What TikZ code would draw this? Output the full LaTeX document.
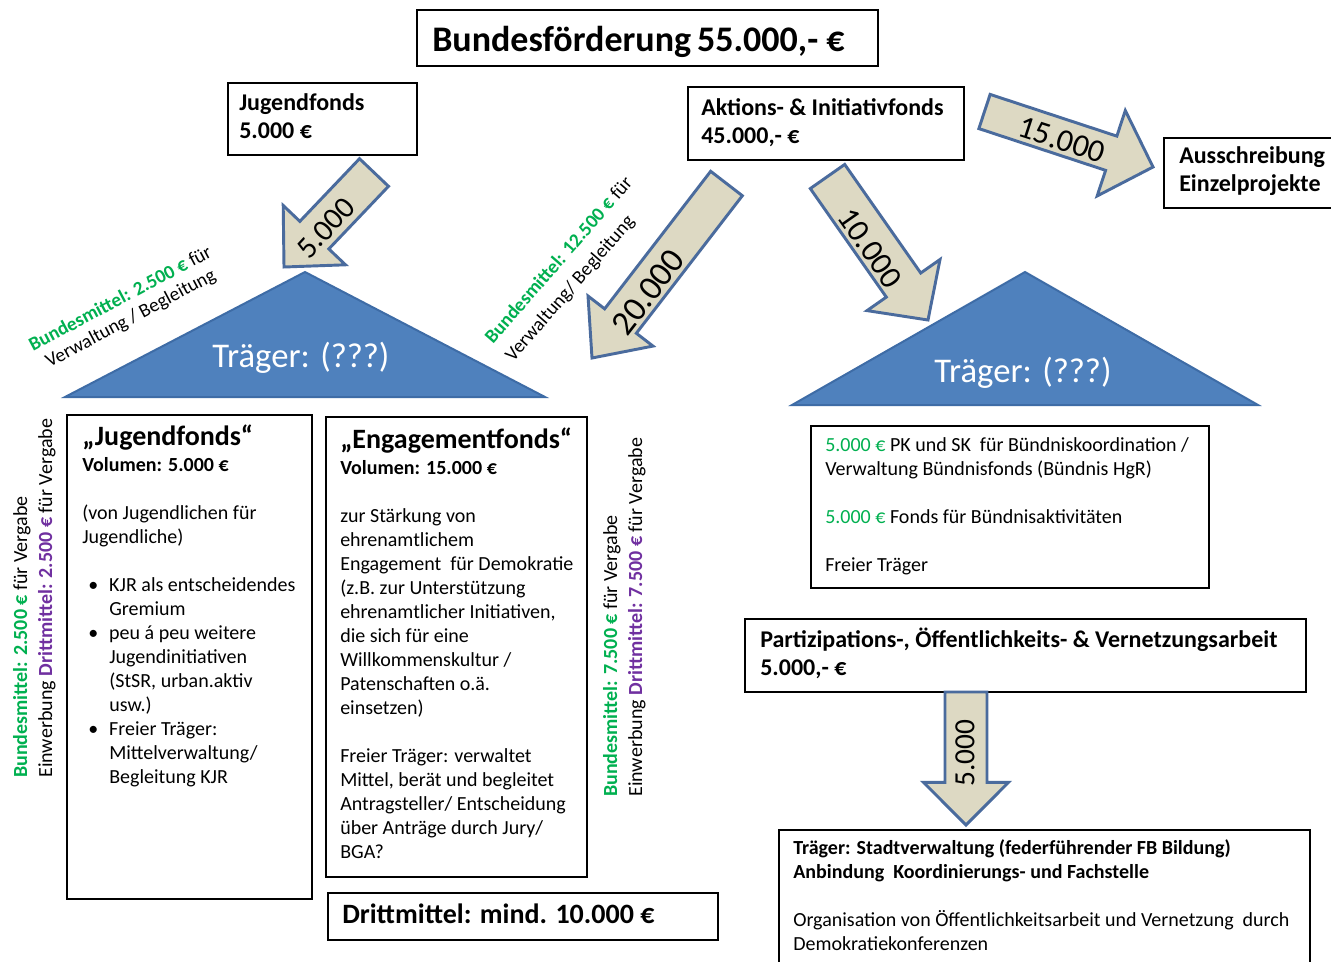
\documentclass[tikz,border=0pt]{standalone}
\usepackage{fontspec}
\setmainfont{Carlito}
\usetikzlibrary{calc,fit}
\definecolor{grn}{HTML}{00B050}
\definecolor{prp}{HTML}{7030A0}
\definecolor{trifill}{HTML}{4F81BD}
\definecolor{triedge}{HTML}{3E6CA6}
\definecolor{arrfill}{HTML}{DDD9C3}
\definecolor{arredge}{HTML}{4A6B9D}
\newcommand\mytab[1]{\begin{tabular}[t]{@{}l@{}}#1\end{tabular}}
\newcommand\mytabc[1]{\begin{tabular}[t]{@{}c@{}}#1\end{tabular}}
\newcommand\blockarrow[5]{%
  \path ($(#2)!#5!(#1)$) coordinate (#1h);
  \draw[barrow] ($(#1)!#3!90:(#2)$) -- ($(#1h)!#3!90:(#2)$) -- ($(#1h)!#4!90:(#2)$) -- (#2)
     -- ($(#1h)!#4!-90:(#2)$) -- ($(#1h)!#3!-90:(#2)$) -- ($(#1)!#3!-90:(#2)$) -- cycle;}
\tikzset{
  box/.style={draw=black, line width=1.2pt, inner sep=0pt, fill=white},
  tb/.style={inner sep=0pt, anchor=base west},
  body/.style={tb, font=\fontsize{15}{18}\selectfont},
  head/.style={tb, font=\fontsize{18}{21}\selectfont\bfseries},
  big/.style={tb, font=\fontsize{21}{25}\selectfont\bfseries},
  lab/.style={inner sep=0pt, font=\fontsize{15}{18.75}\selectfont},
  tri/.style={fill=trifill, draw=triedge, line width=1.5pt},
  trtxt/.style={text=white, inner sep=0pt, font=\fontsize{26}{30}\selectfont},
  barrow/.style={fill=arrfill, draw=arredge, line width=2.2pt},
  arrtxt/.style={inner sep=0pt, font=\fontsize{24}{28}\selectfont},
}
\begin{document}
\begin{tikzpicture}[x=0.75pt,y=-0.75pt]
\useasboundingbox (0,0) rectangle (1331,961);
\fill[white] (0,0) rectangle (1331,961);

% ---- boxes ----
\node[box, line width=2pt, fit={(417,10) (878,66)}] (title) {};
\node[tb, font=\fontsize{27}{32}\selectfont\bfseries] (titletxt) at (432,51) {Bundesförderung\,55.000,- €};

\node[box, fit={(228,83) (417,155)}] (jf) {};
\node[head] (jftxt) at (239,110.5) {\mytab{Jugendfonds\\5.000 €}};

\node[box, fit={(688,87) (964,160)}] (aif) {};
\node[head] (aiftxt) at (701,115.5) {\mytab{Aktions- \& Initiativfonds\\45.000,- €}};

\node[box, fit={(1164,138) (1345,208)}] (aus) {};
\node[head] (austxt) at (1179,163.5) {\mytab{Ausschreibung\\Einzelprojekte}};

% ---- triangles ----
\draw[tri] (305,272) -- (545,397) -- (65,397) -- cycle;
\node[trtxt] (tr1) at (301,358) {Träger: (???)};
\draw[tri] (1025,272) -- (1258,405) -- (792,405) -- cycle;
\node[trtxt] (tr2) at (1023,373) {Träger: (???)};

% ---- block arrows ----
\coordinate (a1t) at (984.5,111.5); \coordinate (a1p) at (1153,167);
\blockarrow{a1t}{a1p}{13.5pt}{33.75pt}{33pt}
\node[arrtxt, rotate=-18] (a1x) at (1062,140) {15.000};

\coordinate (a2t) at (374,172.5); \coordinate (a2p) at (284,267);
\blockarrow{a2t}{a2p}{15pt}{32.25pt}{33pt}
\node[arrtxt, font=\fontsize{23}{27}\selectfont, rotate=47] (a2x) at (326,228) {5.000};

\coordinate (a3t) at (726.5,183.5); \coordinate (a3p) at (592,358);
\blockarrow{a3t}{a3p}{15pt}{30.75pt}{35pt}
\node[arrtxt, font=\fontsize{26}{30}\selectfont, rotate=52.4] (a3x) at (648,292) {20.000};

\coordinate (a4t) at (827.5,176.5); \coordinate (a4p) at (928,320);
\blockarrow{a4t}{a4p}{15.75pt}{33.4pt}{32pt}
\node[arrtxt, rotate=-55] (a4x) at (870,248) {10.000};

% ---- diagonal labels ----
\node[tb, anchor=base, rotate=28, font=\fontsize{14.5}{16.5}\selectfont] (dl1) at (123,304)
  {\mytabc{\textbf{\textcolor{grn}{Bundesmittel: 2.500 €}} für\\Verwaltung / Begleitung}};
\node[tb, rotate=49, font=\fontsize{14.5}{20}\selectfont] (dl2) at (493,345)
  {\mytab{\textbf{\textcolor{grn}{Bundesmittel: 12.500 €}} für\\Verwaltung/ Begleitung}};

% ---- vertical labels ----
\node[tb, lab, rotate=90] (vl1) at (27,778)
  {\mytab{\textbf{\textcolor{grn}{Bundesmittel: 2.500 €}} für Vergabe\\Einwerbung \textbf{\textcolor{prp}{Drittmittel: 2.500 €}} für Vergabe}};
\node[tb, lab, rotate=90] (vl2) at (617,797)
  {\mytab{\textbf{\textcolor{grn}{Bundesmittel: 7.500 €}} für Vergabe\\Einwerbung \textbf{\textcolor{prp}{Drittmittel: 7.500 €}} für Vergabe}};

% ---- Jugendfonds box ----
\node[box, fit={(67,415) (312,899)}] (jfbox) {};
\node[big] (jfh) at (82,445) {„Jugendfonds“};
\node[body, font=\fontsize{15}{18}\selectfont\bfseries] (jfv) at (82,471.6) {Volumen: 5.000 €};
\node[body] (jfb) at (82,519.6) {\begin{tabular}[t]{@{}p{20.25pt}@{}l@{}}
\multicolumn{2}{@{}l@{}}{(von Jugendlichen für}\\
\multicolumn{2}{@{}l@{}}{Jugendliche)}\\
\\
\hspace{4.5pt}•&KJR als entscheidendes\\
&Gremium\\
\hspace{4.5pt}•&peu á peu weitere\\
&Jugendinitiativen\\
&(StSR, urban.aktiv\\
&usw.)\\
\hspace{4.5pt}•&Freier Träger:\\
&Mittelverwaltung/\\
&Begleitung KJR
\end{tabular}};

% ---- Engagementfonds box ----
\node[box, fit={(326,417) (587,877)}] (egbox) {};
\node[big] (egh) at (340,448) {„Engagementfonds“};
\node[body, font=\fontsize{15}{18}\selectfont\bfseries] (egv) at (340,474.6) {Volumen: 15.000 €};
\node[body] (egb) at (340,522.6) {\mytab{zur Stärkung von\\
ehrenamtlichem\\
Engagement\ \ für Demokratie\\
(z.B. zur Unterstützung\\
ehrenamtlicher Initiativen,\\
die sich für eine\\
Willkommenskultur /\\
Patenschaften o.ä.\\
einsetzen)\\
\\
Freier Träger: verwaltet\\
Mittel, berät und begleitet\\
Antragsteller/ Entscheidung\\
über Anträge durch Jury/\\
BGA?}};

\node[box, fit={(328,893) (718,940)}] (dm) {};
\node[big] (dmtxt) at (342,923) {Drittmittel: mind. 10.000 €};

% ---- right column ----
\node[box, fit={(811,426) (1209,588)}] (rbox) {};
\node[body] (rtxt) at (825,451.6) {\mytab{\textcolor{grn}{5.000 €} PK und SK\ \ für Bündniskoordination /\\
Verwaltung Bündnisfonds (Bündnis HgR)\\
\\
\textcolor{grn}{5.000 €} Fonds für Bündnisaktivitäten\\
\\
Freier Träger}};

\node[box, fit={(745,619) (1306,692)}] (pz) {};
\node[head] (pztxt) at (760,647.4) {\mytab{Partizipations-, Öffentlichkeits- \& Vernetzungsarbeit\\5.000,- €}};

\coordinate (a5t) at (966,692); \coordinate (a5p) at (966,825);
\blockarrow{a5t}{a5p}{15.75pt}{31.9pt}{32pt}
\node[arrtxt, font=\fontsize{22}{26}\selectfont, rotate=90] (a5x) at (965,753) {5.000};

\node[box, fit={(779,830) (1310,980)}] (sv) {};
\node[body] (svtxt) at (793,854.6) {\mytab{\textbf{Träger: Stadtverwaltung (federführender FB Bildung)}\\
\textbf{Anbindung\ \ Koordinierungs- und Fachstelle}\\
\\
Organisation von Öffentlichkeitsarbeit und Vernetzung\ \ durch\\
Demokratiekonferenzen}};
\end{tikzpicture}
\end{document}
